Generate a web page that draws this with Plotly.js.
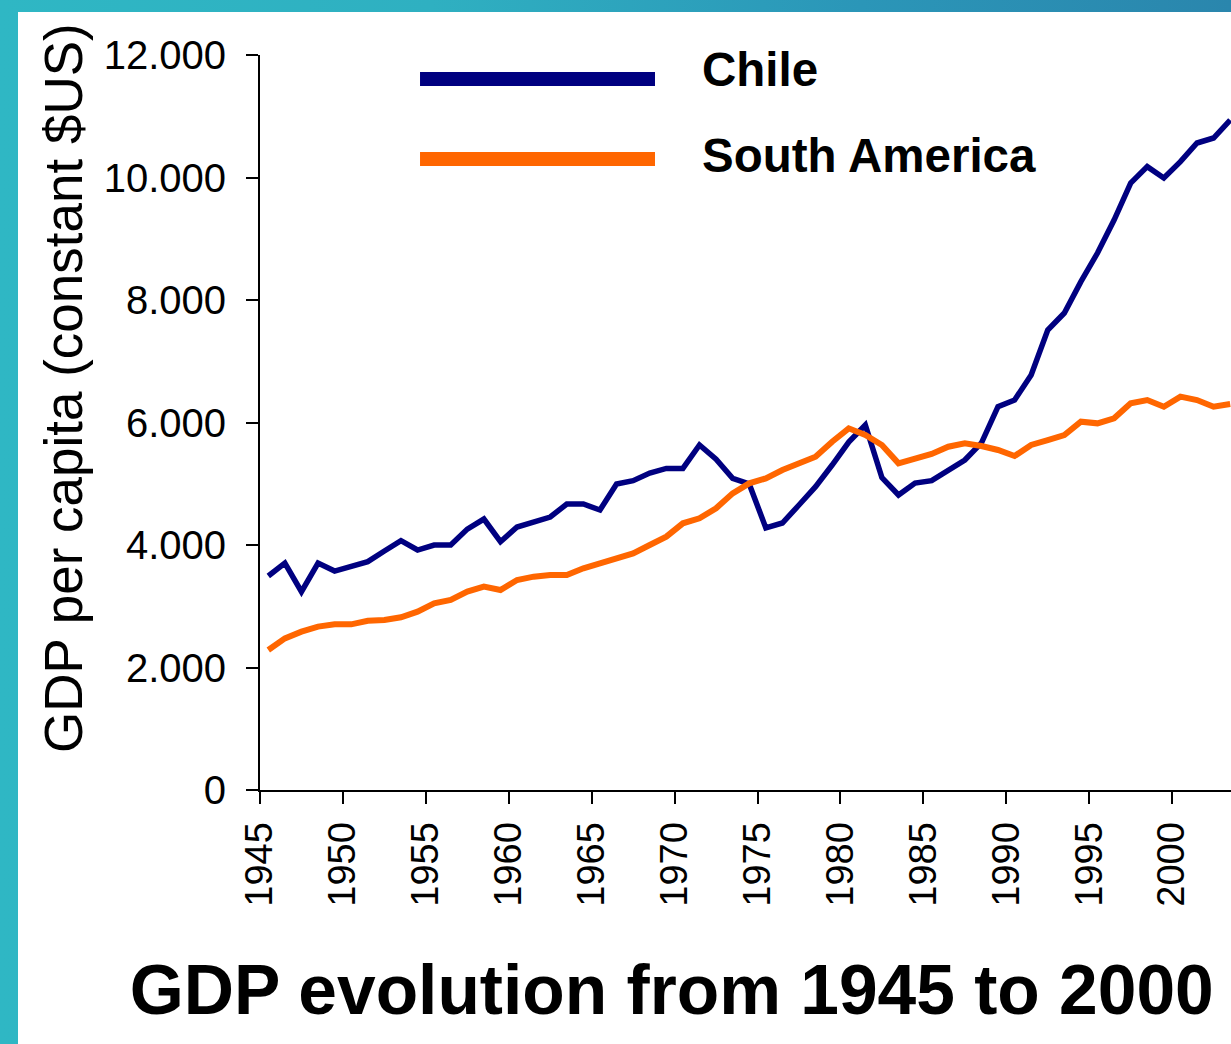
<!DOCTYPE html>
<html>
<head>
<meta charset="utf-8">
<script src="https://cdn.plot.ly/plotly-3.0.1.min.js"></script>
<style>
  html, body { margin: 0; padding: 0; width: 1231px; height: 1044px; overflow: hidden; }
  body { background: linear-gradient(to right, #2fb7c4 0%, #2fb0c1 35%, #2b96b8 70%, #2a86ad 100%); position: relative; }
  #chart { position: absolute; left: 18px; top: 12px; width: 1213px; height: 1032px; background: #ffffff; }
</style>
</head>
<body>
<div id="chart"></div>
<script>
const years = [1945,1946,1947,1948,1949,1950,1951,1952,1953,1954,1955,1956,1957,1958,1959,1960,1961,1962,1963,1964,1965,1966,1967,1968,1969,1970,1971,1972,1973,1974,1975,1976,1977,1978,1979,1980,1981,1982,1983,1984,1985,1986,1987,1988,1989,1990,1991,1992,1993,1994,1995,1996,1997,1998,1999,2000,2001,2002,2003];

const chile = [3494,3706,3238,3706,3575,3646,3728,3902,4070,3918,4000,4000,4260,4424,4054,4293,4381,4457,4669,4669,4571,4996,5050,5175,5250,5250,5633,5400,5088,4996,4280,4359,4653,4952,5306,5680,5959,5100,4816,5012,5050,5224,5388,5665,6258,6367,6776,7510,7788,8299,8767,9306,9910,10177,9992,10258,10563,10645,10939];

const southAmerica = [2286,2476,2585,2667,2705,2705,2764,2776,2820,2912,3048,3102,3238,3320,3265,3429,3483,3510,3510,3619,3700,3782,3864,4000,4136,4354,4435,4599,4843,5007,5088,5224,5333,5442,5687,5905,5796,5633,5333,5415,5486,5605,5660,5616,5551,5453,5633,5714,5796,6013,5986,6068,6313,6367,6258,6422,6367,6258,6302];

const tickYears = [1945,1950,1955,1960,1965,1970,1975,1980,1985,1990,1995,2000];
const tickLabels = ['1945','1950','1955','1960','1965','1970','1975','1980','1985','1990','1995','2000'];
const yTicks = [0,2000,4000,6000,8000,10000,12000];

const seriesNames = ['Chile', 'South America'];
const seriesColors = ['#000080', '#ff6600'];

const FONT = 'Liberation Sans, Arial, sans-serif';

const traces = [
  { x: years, y: chile, name: seriesNames[0], type: 'scatter', mode: 'lines',
    line: { color: seriesColors[0], width: 5.5 } },
  { x: years, y: southAmerica, name: seriesNames[1], type: 'scatter', mode: 'lines',
    line: { color: seriesColors[1], width: 6 } }
];

const layout = {
  width: 1213, height: 1032,
  margin: { l: 242, r: 0, t: 43, b: 254, pad: 0 },
  paper_bgcolor: '#ffffff', plot_bgcolor: '#ffffff',
  separators: ',.',
  showlegend: false,
  font: { family: FONT, color: '#000000' },
  title: {
    text: '<b>GDP evolution from 1945 to 2000</b>',
    font: { family: FONT, size: 69.5, color: '#000000' },
    xref: 'paper', x: 0.424, xanchor: 'center',
    yref: 'container', y: 0.053, yanchor: 'middle'
  },
  xaxis: {
    range: [1944.5, 2003.05],
    tickmode: 'array',
    tickvals: tickYears.map(v => v - 0.5),
    ticktext: tickLabels,
    tickangle: -90,
    ticks: 'outside', ticklen: 12, tickwidth: 2, tickcolor: '#000000',
    showline: true, linecolor: '#000000', linewidth: 2,
    showgrid: false, zeroline: false,
    tickfont: { family: FONT, size: 38, color: '#000000' },
    ticklabelstandoff: 3
  },
  yaxis: {
    range: [0, 12000],
    tickmode: 'array',
    tickvals: yTicks,
    tickformat: ',d',
    ticks: 'outside', ticklen: 12, tickwidth: 2, tickcolor: '#000000',
    showline: true, linecolor: '#000000', linewidth: 2,
    showgrid: false, zeroline: false,
    tickfont: { family: FONT, size: 40, color: '#000000' },
    ticklabelstandoff: 12
  },
  shapes: [
    { type: 'line', xref: 'paper', yref: 'paper', x0: 0.1648, x1: 0.4068, y0: 0.9673, y1: 0.9673,
      line: { color: seriesColors[0], width: 14 } },
    { type: 'line', xref: 'paper', yref: 'paper', x0: 0.1648, x1: 0.4068, y0: 0.8585, y1: 0.8585,
      line: { color: seriesColors[1], width: 14 } }
  ],
  annotations: [
    { text: '<b>' + seriesNames[0] + '</b>', xref: 'paper', yref: 'paper', x: 0.453, y: 0.9796,
      xanchor: 'left', yanchor: 'middle', showarrow: false,
      font: { family: FONT, size: 47.5, color: '#000000' } },
    { text: '<b>' + seriesNames[1] + '</b>', xref: 'paper', yref: 'paper', x: 0.453, y: 0.8626,
      xanchor: 'left', yanchor: 'middle', showarrow: false,
      font: { family: FONT, size: 47.5, color: '#000000' } },
    { text: 'GDP per capita (constant $US)', xref: 'paper', yref: 'paper', x: -0.2019, y: 0.547,
      xanchor: 'center', yanchor: 'middle', textangle: -90, showarrow: false,
      font: { family: FONT, size: 53, color: '#000000' } }
  ]
};

Plotly.newPlot('chart', traces, layout, { displayModeBar: false, staticPlot: true });
</script>
</body>
</html>
